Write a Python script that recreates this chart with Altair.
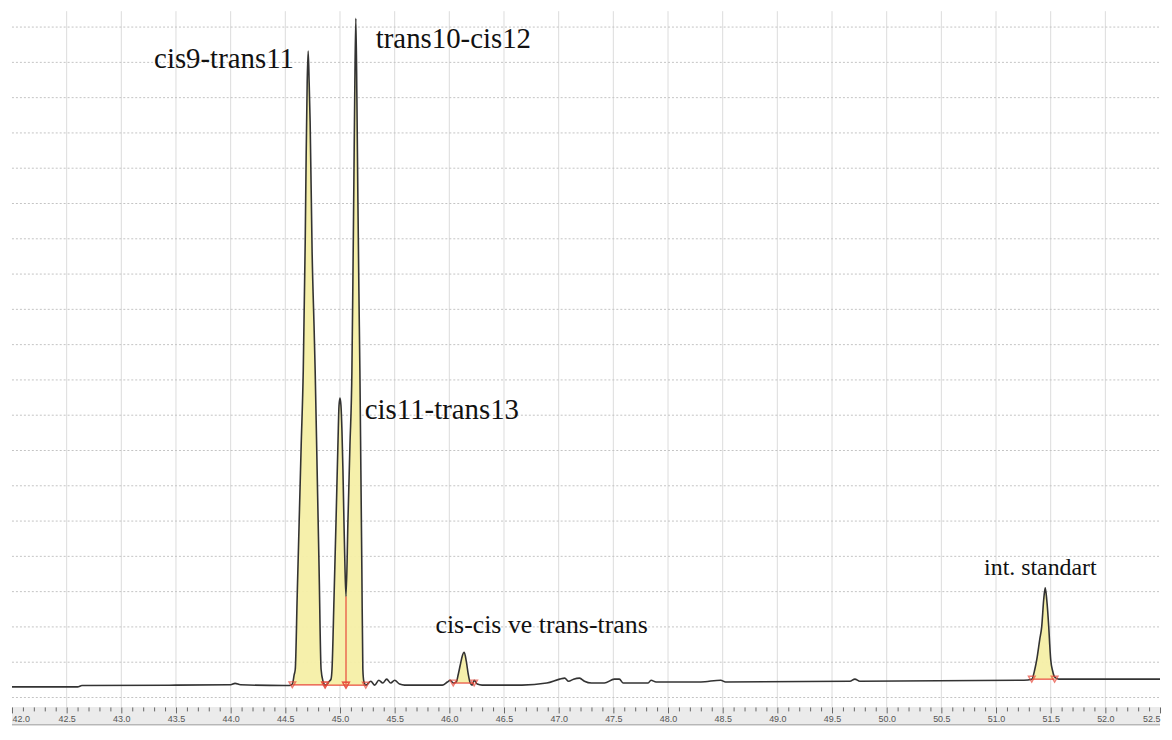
import altair as alt
import pandas as pd

# ---------------- data ----------------
# retention time (min) and detector signal (arbitrary units, 1 unit = 1 grid step)
rt_base1 = [42.00, 42.60, 42.64, 43.50, 44.00, 44.04, 44.09, 44.50]
sig_base1 = [0.30, 0.30, 0.34, 0.35, 0.36, 0.40, 0.36, 0.34]

rt_c9t11 = [44.536, 44.564, 44.582, 44.591, 44.609, 44.627, 44.645, 44.664, 44.682, 44.691, 44.700,
            44.709, 44.718, 44.727, 44.745, 44.764, 44.773, 44.791, 44.809, 44.827, 44.845, 44.864]
sig_c9t11 = [0.34, 0.38, 0.66, 0.80, 2.92, 5.03, 7.14, 9.25, 12.92, 15.45, 17.42,
             18.32, 17.42, 16.30, 12.63, 10.38, 9.25, 6.44, 3.62, 0.80, 0.46, 0.35]

rt_c11t13 = [44.882, 44.900, 44.918, 44.927, 44.945, 44.964, 44.982, 44.991, 45.000, 45.009,
             45.018, 45.027, 45.036, 45.045, 45.055]
sig_c11t13 = [0.38, 0.45, 0.52, 0.80, 2.77, 5.03, 7.28, 8.27, 8.49, 8.27,
              7.56, 6.44, 5.03, 3.76, 2.86]

rt_t10c12 = [45.073, 45.091, 45.109, 45.118, 45.127, 45.136, 45.145, 45.155, 45.164, 45.173,
             45.182, 45.191, 45.200, 45.209, 45.218, 45.236]
sig_t10c12 = [5.03, 7.14, 9.25, 11.79, 14.61, 17.42, 19.25, 16.86, 14.04, 11.51,
              9.25, 6.44, 3.62, 0.80, 0.46, 0.35]

rt_wig = [45.282, 45.318, 45.355, 45.391, 45.427, 45.464, 45.500, 45.545, 45.591]
sig_wig = [0.46, 0.35, 0.49, 0.41, 0.52, 0.41, 0.49, 0.38, 0.35]

rt_cc = [45.936, 45.982, 46.009, 46.036, 46.064, 46.082, 46.100, 46.118, 46.136, 46.155,
         46.173, 46.191, 46.209, 46.227, 46.255, 46.300]
sig_cc = [0.35, 0.44, 0.49, 0.41, 0.44, 0.66, 0.92, 1.17, 1.28, 1.03,
          0.66, 0.41, 0.35, 0.49, 0.38, 0.35]

rt_mid = [46.664, 46.891, 47.009, 47.055, 47.091, 47.136, 47.191, 47.236, 47.300, 47.418,
          47.509, 47.555, 47.591, 47.818, 47.845, 47.891, 48.300, 48.482, 48.527, 49.664,
          49.709, 49.755, 51.255]
sig_mid = [0.35, 0.41, 0.52, 0.55, 0.46, 0.52, 0.55, 0.46, 0.41, 0.41,
           0.52, 0.52, 0.41, 0.41, 0.49, 0.44, 0.44, 0.49, 0.44, 0.46,
           0.52, 0.46, 0.49]

rt_std = [51.327, 51.355, 51.373, 51.400, 51.418, 51.436, 51.450, 51.464, 51.482, 51.491,
          51.500, 51.518, 51.536, 51.573, 52.50]
sig_std = [0.52, 0.80, 1.08, 1.65, 2.01, 2.77, 3.11, 2.77, 2.01, 1.51,
           1.08, 0.75, 0.58, 0.52, 0.52]

# integrated peaks (start, end, baseline)
peak_start = [44.564, 44.864, 45.055, 46.036, 51.327]
peak_end = [44.864, 45.055, 45.236, 46.227, 51.536]
peak_base = [0.36, 0.35, 0.35, 0.41, 0.52]
split_rt = [45.055]
split_top = [2.86]

# peak labels (left edge, baseline)
label_text = ["cis9-trans11", "trans10-cis12", "cis11-trans13", "cis-cis ve trans-trans", "int. standart"]
label_rt = [43.300, 45.327, 45.227, 45.873, 50.891]
label_val = [17.85, 18.41, 7.90, 1.82, 3.48]
label_size = [29, 29, 29, 26, 24]

# axis / grid
tick_values = [round(42.0 + i * 0.1, 1) for i in range(106)]
vgrid_values = [42.5, 43.0, 43.5, 44.0, 44.5, 45.0, 45.5, 46.0, 46.5, 47.0, 47.5, 48.0,
                48.5, 49.0, 49.5, 50.0, 50.5, 51.0, 51.5, 52.0]
hgrid_values = list(range(0, 20))

# ---------------- build tables ----------------
rt_all = rt_base1 + rt_c9t11 + rt_c11t13 + rt_t10c12 + rt_wig + rt_cc + rt_mid + rt_std
sig_all = sig_base1 + sig_c9t11 + sig_c11t13 + sig_t10c12 + sig_wig + sig_cc + sig_mid + sig_std
trace = pd.DataFrame({"rt": rt_all, "signal": sig_all})

rows = []
for k, (s, e, b) in enumerate(zip(peak_start, peak_end, peak_base)):
    seg = trace[(trace.rt >= s - 1e-6) & (trace.rt <= e + 1e-6)]
    for r, v in zip(seg.rt, seg.signal):
        rows.append({"rt": r, "signal": v, "base": b, "peak": k})
fill_df = pd.DataFrame(rows)

peaks_df = pd.DataFrame({"start": peak_start, "end": peak_end, "base": peak_base})
marks_df = pd.DataFrame({"rt": peak_start + peak_end, "base": peak_base + peak_base})
split_df = pd.DataFrame({"rt": split_rt, "top": split_top, "base": [0.35]})
labels_df = pd.DataFrame({"text": label_text, "rt": label_rt, "val": label_val, "size": label_size})

W, H = 1155, 700
xscale = alt.Scale(domain=[42.0, 52.5], nice=False, zero=False)
yscale = alt.Scale(domain=[-0.268, 19.451], nice=False, zero=False)
major = "abs(datum.value*2 - round(datum.value*2)) < 0.01"
xaxis = alt.Axis(values=tick_values, title=None, domain=False, grid=False,
                 labelExpr="(" + major + ") ? format(datum.value, '.1f') : ''",
                 tickSize={"condition": {"test": major, "value": 6}, "value": 4},
                 tickColor="#666666", tickWidth=1,
                 labelColor="#555555", labelFontSize=9, labelFont="Liberation Sans",
                 labelPadding=2, labelFlush=True, labelOverlap=False, zindex=1)


def X(f):
    return alt.X(f, type="quantitative", scale=xscale, axis=xaxis)


def Y(f):
    return alt.Y(f, type="quantitative", scale=yscale, axis=None)


vgrid = alt.Chart(pd.DataFrame({"g": vgrid_values})).mark_rule(
    color="#dcdcdc", strokeWidth=1).encode(x=X("g"), y=alt.value(0), y2=alt.value(H))

hgrid = alt.Chart(pd.DataFrame({"h": hgrid_values})).mark_rule(
    color="#c4c4c4", strokeWidth=1, strokeDash=[2, 2]).encode(
    y=Y("h"), x=alt.value(0), x2=alt.value(W))

band = alt.Chart(pd.DataFrame({"a": [0]})).mark_rect(color="#ebebeb").encode(
    x=alt.value(0), x2=alt.value(W), y=alt.value(H), y2=alt.value(H + 18))
band_line = alt.Chart(pd.DataFrame({"a": [0]})).mark_rule(color="#9a9a9a", strokeWidth=1).encode(
    x=alt.value(0), x2=alt.value(W), y=alt.value(H + 18))

fill = alt.Chart(fill_df).mark_area(color="#f6efa6", opacity=0.95, interpolate="monotone").encode(
    x=X("rt"), y=Y("signal"), y2="base", detail="peak:N")

line = alt.Chart(trace).mark_line(color="#333333", strokeWidth=1.6, interpolate="monotone").encode(
    x=X("rt"), y=Y("signal"))

base_rules = alt.Chart(peaks_df).mark_rule(color="#e8483a", strokeWidth=1.2).encode(
    x=X("start"), x2="end", y=Y("base"), y2="base")

split_rule = alt.Chart(split_df).mark_rule(color="#e8483a", strokeWidth=1.2).encode(
    x=X("rt"), y=Y("base"), y2="top")

pts = alt.Chart(marks_df).mark_point(shape="triangle-down", color="#e8483a", filled=False,
                                     size=45, strokeWidth=1.4).encode(x=X("rt"), y=Y("base"))

texts = alt.Chart(labels_df).mark_text(font="Liberation Serif", color="#111111", align="left",
                                       baseline="alphabetic").encode(
    x=X("rt"), y=Y("val"), text="text:N", size=alt.Size("size:Q", scale=None, legend=None))

chart = alt.layer(vgrid, hgrid, band, band_line, fill, line, base_rules, split_rule, pts, texts).properties(
    width=W, height=H, padding=0
).configure_view(stroke=None)

chart.save("out.html", embed_options={"renderer": "svg", "actions": False})
